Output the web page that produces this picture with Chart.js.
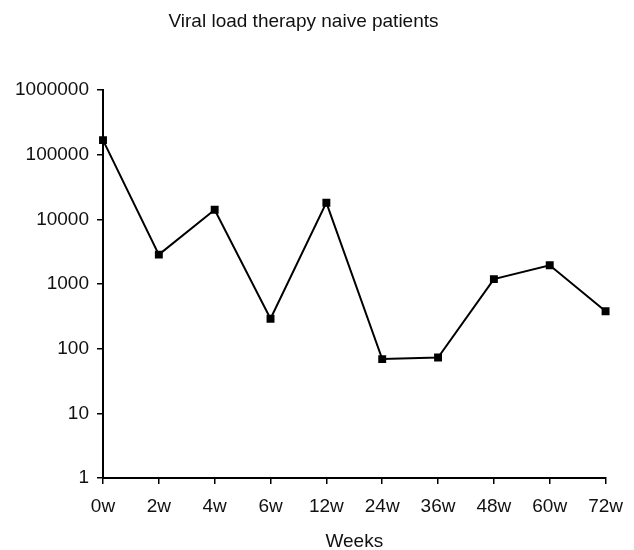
<!DOCTYPE html>
<html>
<head>
<meta charset="utf-8">
<script src="https://cdn.jsdelivr.net/npm/chart.js@4"></script>
<style>
	html, body { margin: 0; padding: 0; background: #fff; }
	#wrap { width: 634px; height: 550px; position: relative; }
</style>
</head>
<body>
<div id="wrap"><canvas id="chart"></canvas></div>
<script>

// Data
const weeks = ['0w', '2w', '4w', '6w', '12w', '24w', '36w', '48w', '60w', '72w'];
const viralLoad = [168000, 2850, 14100, 290, 18100, 69, 73, 1190, 1950, 380];
const yTicks = [1, 10, 100, 1000, 10000, 100000, 1000000];

const FONT = 'Liberation Sans, Arial, sans-serif';

new Chart(document.getElementById('chart'), {
	type: 'line',
	data: {
		labels: weeks,
		datasets: [{
			data: viralLoad,
			borderColor: '#000',
			backgroundColor: '#000',
			borderWidth: 2,
			pointStyle: 'rect',
			pointRadius: 5.6,
			pointBorderWidth: 0,
			tension: 0
		}]
	},
	options: {
		responsive: true,
		maintainAspectRatio: false,
		animation: false,
		layout: { padding: { left: 0, right: 27, top: 0, bottom: 0 } },
		plugins: {
			legend: { display: false },
			tooltip: { enabled: false },
			title: {
				display: true,
				text: 'Viral load therapy naive patients',
				color: '#111',
				font: { family: FONT, size: 19, weight: 'normal', lineHeight: 1.2 },
				padding: { top: 10, bottom: 57.2 }
			}
		},
		scales: {
			x: {
				offset: false,
				grid: { display: true, drawOnChartArea: false, drawTicks: true, tickLength: 6, color: '#000', lineWidth: 1.5 },
				border: { display: true, color: '#000', width: 2 },
				ticks: { color: '#111', padding: 11, font: { family: FONT, size: 19 }, maxRotation: 0, autoSkip: false },
				title: { display: true, text: 'Weeks', color: '#111', font: { family: FONT, size: 19 }, padding: { top: 0, bottom: -3 } },
				afterFit: (scale) => { scale.height = 72; }
			},
			y: {
				type: 'logarithmic',
				min: 1,
				max: 1000000,
				grid: { display: true, drawOnChartArea: false, drawTicks: true, tickLength: 6, color: '#000', lineWidth: 1.5 },
				border: { display: true, color: '#000', width: 2 },
				afterBuildTicks: (scale) => { scale.ticks = yTicks.map(v => ({ value: v })); },
				ticks: {
					color: '#111',
					padding: 8,
					font: { family: FONT, size: 19 },
					callback: (value) => String(value)
				},
				afterFit: (scale) => { scale.width = 103; }
			}
		}
	}
});
</script>
</body>
</html>
